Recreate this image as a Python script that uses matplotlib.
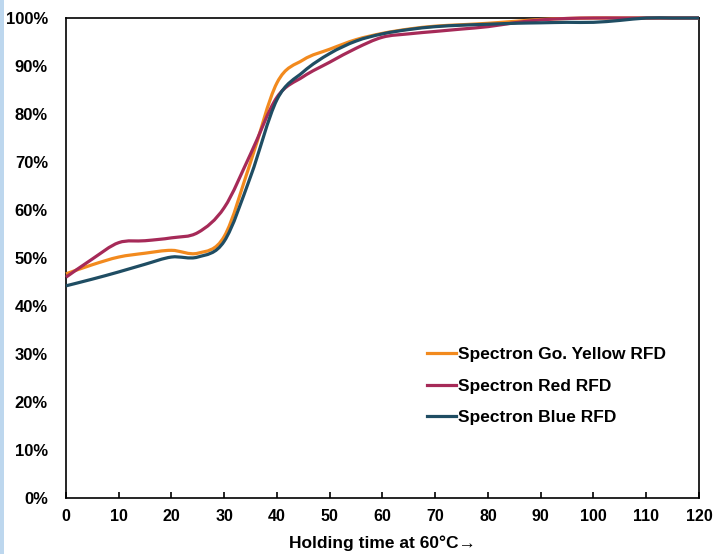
import matplotlib
matplotlib.use("Agg")
import matplotlib.pyplot as plt
from matplotlib.path import Path
from matplotlib.patches import PathPatch, Rectangle
from matplotlib.lines import Line2D
from matplotlib.ticker import FuncFormatter

plt.rcParams['font.family'] = ['Liberation Sans', 'DejaVu Sans']

# holding time (min) and retained share (%)
hours = [0, 5, 10, 15, 20, 25, 30, 35, 40, 45, 50, 55, 60, 65, 70, 75, 80, 85, 90, 95, 100, 105, 110, 115, 120]
yellow = [46.7, 48.6, 50.2, 51.0, 51.6, 51.0, 54.5, 70.0, 86.5, 91.3, 93.5, 95.5, 96.8, 97.7, 98.3, 98.6, 98.9, 99.3, 99.7, 99.9, 100, 100, 100, 100, 100]
red = [46.0, 49.8, 53.2, 53.6, 54.2, 55.3, 60.5, 71.7, 83.5, 87.8, 90.8, 93.7, 96.0, 96.7, 97.2, 97.7, 98.2, 99.0, 99.6, 99.9, 100, 100, 100, 100, 100]
blue = [44.2, 45.6, 47.1, 48.7, 50.2, 50.2, 53.5, 67.0, 83.0, 88.8, 92.6, 95.2, 96.7, 97.6, 98.2, 98.5, 98.7, 98.9, 99.0, 99.1, 99.1, 99.5, 100, 100, 100]
labels = ["Spectron Go. Yellow RFD", "Spectron Red RFD", "Spectron Blue RFD"]
colors = ["#F28A1E", "#A62A58", "#1F4D63"]


def smooth_path(x, y):
    # Excel-style smoothed line: cubic Bezier through the data points
    n = len(x)
    verts = [(x[0], y[0])]
    codes = [Path.MOVETO]
    for i in range(n - 1):
        xp, yp = (x[i - 1], y[i - 1]) if i > 0 else (x[i], y[i])
        xn, yn = (x[i + 2], y[i + 2]) if i + 2 < n else (x[i + 1], y[i + 1])
        verts += [(x[i] + (x[i + 1] - xp) / 6, y[i] + (y[i + 1] - yp) / 6),
                  (x[i + 1] - (xn - x[i]) / 6, y[i + 1] - (yn - y[i]) / 6),
                  (x[i + 1], y[i + 1])]
        codes += [Path.CURVE4] * 3
    return Path(verts, codes)


fig = plt.figure(figsize=(7.15, 5.54), dpi=100)
fig.patch.set_facecolor("white")
fig.patches.append(Rectangle((0, 0), 4 / 715, 1, transform=fig.transFigure, fc="#BDD7EE", ec="none"))

ax = fig.add_axes([0.0923, 0.1011, 0.8853, 0.8664])
ax.set_xlim(0, 120)
ax.set_ylim(0, 100)

for ys, c in zip([yellow, red, blue], colors):
    ax.add_patch(PathPatch(smooth_path(hours, ys), fill=False, ec=c, lw=2.3, zorder=3, clip_on=False))

for s in ax.spines.values():
    s.set_color("black")
    s.set_linewidth(1.2)

ax.set_xticks(range(0, 121, 10))
ax.set_yticks(range(0, 101, 10))
ax.yaxis.set_major_formatter(FuncFormatter(lambda v, p: f"{v:.0f}%"))
ax.tick_params(axis="y", length=0, pad=13)
ax.tick_params(axis="x", direction="in", length=4, width=1.2, pad=8)
for t in ax.get_xticklabels():
    t.set_fontsize(11.5)
    t.set_fontweight("bold")
for t in ax.get_yticklabels():
    t.set_fontsize(12)
    t.set_fontweight("bold")

ax.set_xlabel("Holding time at 60°C\u2192", fontsize=12.5, fontweight="bold", labelpad=8)

handles = [Line2D([], [], color=c, lw=2.3) for c in colors]
ax.legend(handles, labels, loc="upper left", bbox_to_anchor=(0.556, 0.333), frameon=False,
          prop={"weight": "bold", "size": 12.5}, handlelength=1.7, handletextpad=0.1,
          labelspacing=0.95, borderpad=0)

fig.savefig("out.png", dpi=100)
